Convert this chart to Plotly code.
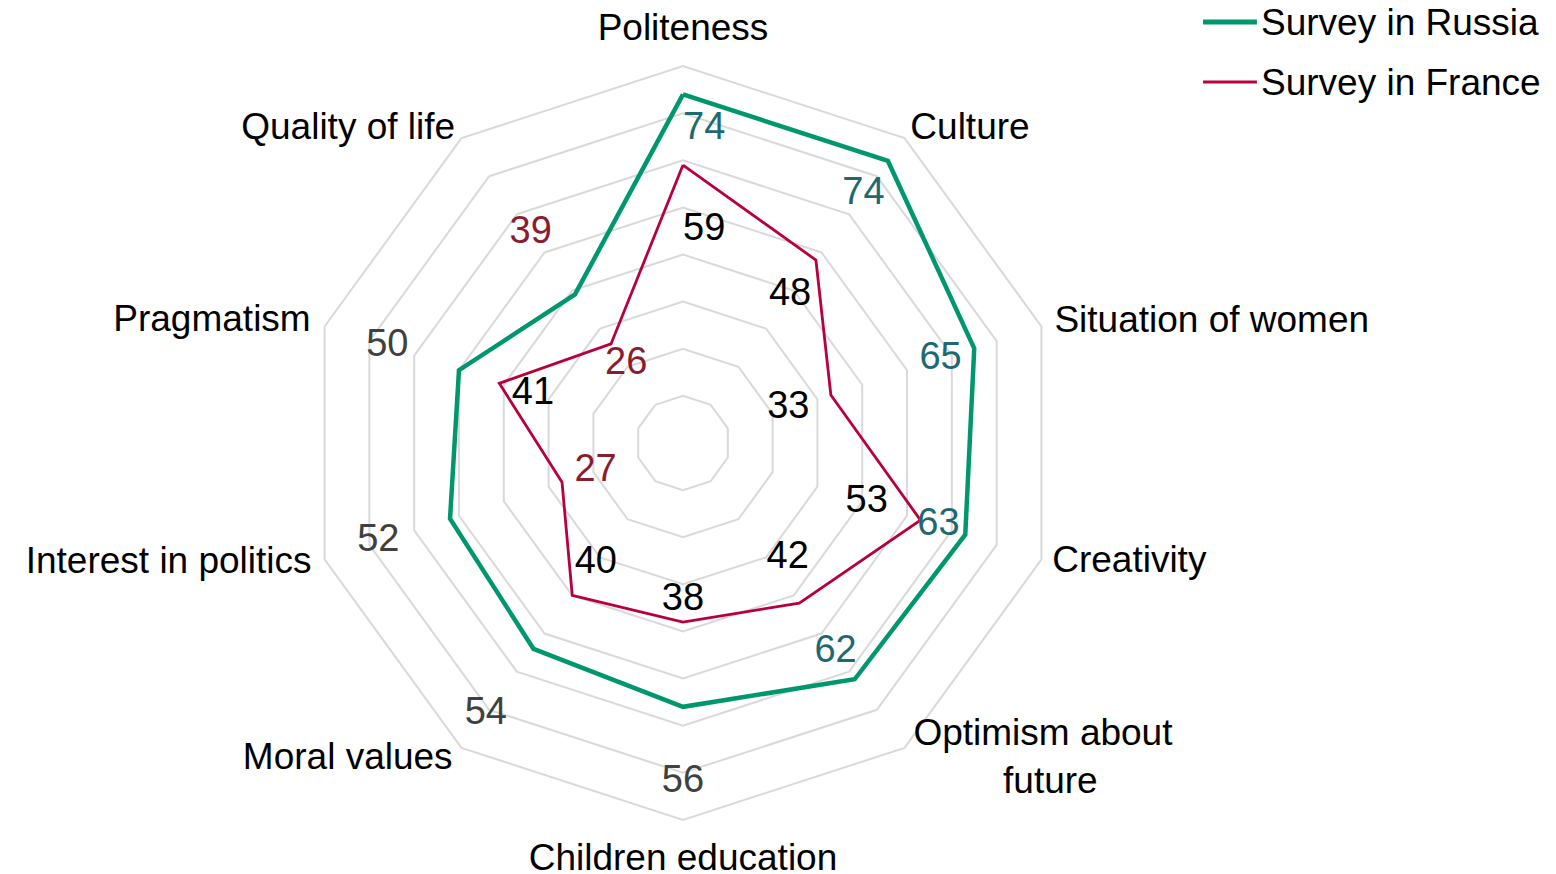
"""Radar chart: perception survey, Russia vs France."""

import plotly.graph_objects as go

NBSP = "\u00a0"

CATEGORIES = [
    "Politeness",
    "Culture",
    "Situation of women",
    "Creativity",
    "Optimism about future",
    "Children education",
    "Moral values",
    "Interest in politics",
    "Pragmatism",
    "Quality of life",
]
# how the category names are printed round the chart
CATEGORY_TEXT = [
    "Politeness",
    "Culture",
    "Situation of women",
    "Creativity",
    "Optimism about<br>" + NBSP * 8 + "\u2009future",
    "Children education",
    "Moral values",
    "Interest in politics",
    "Pragmatism",
    "Quality of life",
]
RUSSIA = [74, 74, 65, 63, 62, 56, 54, 52, 50, 39]
FRANCE = [59, 48, 33, 53, 42, 38, 40, 27, 41, 26]
SERIES_NAMES = ["Survey in Russia", "Survey in France"]
GRID_VALUES = [10, 20, 30, 40, 50, 60, 70, 80]

# Category label placement (radius beyond the outer ring, anchor side)
CAT_LABEL_R = [87.45, 82.1, 82.9, 82.4, 83.2, 88.6, 83.2, 82.9, 83.1, 82.3]
CAT_LABEL_POS = (
    ["middle center"] + ["middle right"] * 4
    + ["middle center"] + ["middle left"] * 4
)

# Value label placement (radial shift from the point) and colours
RUSSIA_LABEL_SHIFT = [-7.5, -8.85, -7.5, -6, -6.9, 16.15, 17.2, 16, 16, 16]
FRANCE_LABEL_SHIFT = [-13.85, -9.35, -9.5, -12, -11.8, -4.6, -8.5, -7.5, -7.5, -5.5]
RUSSIA_LABEL_POS = ["middle right"] + ["middle center"] * 9
FRANCE_LABEL_POS = ["middle right"] + ["middle center"] * 3 + ["middle right"] + ["middle center"] * 5

TEAL = "#1d6872"
DARK_RED = "#8a1c2f"
GREY = "#404040"
RUSSIA_LABEL_COLOURS = [TEAL] * 5 + [GREY] * 4 + [DARK_RED]
FRANCE_LABEL_COLOURS = ["#000000"] * 7 + [DARK_RED, "#000000", DARK_RED]

RUSSIA_COLOUR = "#00976e"
FRANCE_COLOUR = "#b8003a"
FONT = "Liberation Sans, Arial, sans-serif"

# the page adds an 8px body margin, so the figure is drawn 8px smaller
W, H = 1548, 866

fig = go.Figure()

fig.add_trace(
    go.Scatterpolar(
        r=RUSSIA + RUSSIA[:1],
        theta=CATEGORIES + CATEGORIES[:1],
        mode="lines",
        name=SERIES_NAMES[0],
        line=dict(color=RUSSIA_COLOUR, width=4.5),
    )
)
fig.add_trace(
    go.Scatterpolar(
        r=FRANCE + FRANCE[:1],
        theta=CATEGORIES + CATEGORIES[:1],
        mode="lines",
        name=SERIES_NAMES[1],
        line=dict(color=FRANCE_COLOUR, width=2.8),
    )
)

# value labels
for values, shifts, positions, colours in (
    (RUSSIA, RUSSIA_LABEL_SHIFT, RUSSIA_LABEL_POS, RUSSIA_LABEL_COLOURS),
    (FRANCE, FRANCE_LABEL_SHIFT, FRANCE_LABEL_POS, FRANCE_LABEL_COLOURS),
):
    fig.add_trace(
        go.Scatterpolar(
            r=[v + s for v, s in zip(values, shifts)],
            theta=CATEGORIES,
            mode="text",
            text=[str(v) for v in values],
            textposition=positions,
            textfont=dict(family=FONT, size=38, color=colours),
            hoverinfo="skip",
            cliponaxis=False,
        )
    )

# category names, outside the outer ring
fig.add_trace(
    go.Scatterpolar(
        r=CAT_LABEL_R,
        theta=CATEGORIES,
        mode="text",
        text=CATEGORY_TEXT,
        textposition=CAT_LABEL_POS,
        textfont=dict(family=FONT, size=37, color="#000000"),
        hoverinfo="skip",
        cliponaxis=False,
    )
)

# legend drawn by hand so it can sit tight against the top edge
for i, (name, colour, width) in enumerate(
    zip(SERIES_NAMES, [RUSSIA_COLOUR, FRANCE_COLOUR], [5, 3])
):
    y = 0.9838 - i * 0.0693
    fig.add_shape(
        type="line", xref="paper", yref="paper",
        x0=0.7720, x1=0.8068, y0=y, y1=y,
        line=dict(color=colour, width=width),
    )
    fig.add_annotation(
        xref="paper", yref="paper", x=0.8082, y=y,
        xanchor="left", yanchor="middle", showarrow=False,
        text=name, font=dict(family=FONT, size=37, color="#000000"),
    )

fig.update_layout(
    width=W,
    height=H,
    margin=dict(l=0, r=0, t=0, b=0, pad=0),
    paper_bgcolor="white",
    plot_bgcolor="white",
    font=dict(family=FONT, size=37, color="#000000"),
    showlegend=False,
    polar=dict(
        domain=dict(x=[0.1621, 0.7100], y=[0.0081, 0.9873]),
        gridshape="linear",
        bgcolor="white",
        radialaxis=dict(
            range=[0, 90],
            tickmode="array",
            tickvals=GRID_VALUES,
            showticklabels=False,
            ticks="",
            showline=False,
            gridcolor="#d9d9d9",
            gridwidth=1.5,
        ),
        angularaxis=dict(
            rotation=90,
            direction="clockwise",
            showgrid=False,
            showticklabels=False,
            ticks="",
            showline=False,
        ),
    ),
)

fig.write_html("out.html")
